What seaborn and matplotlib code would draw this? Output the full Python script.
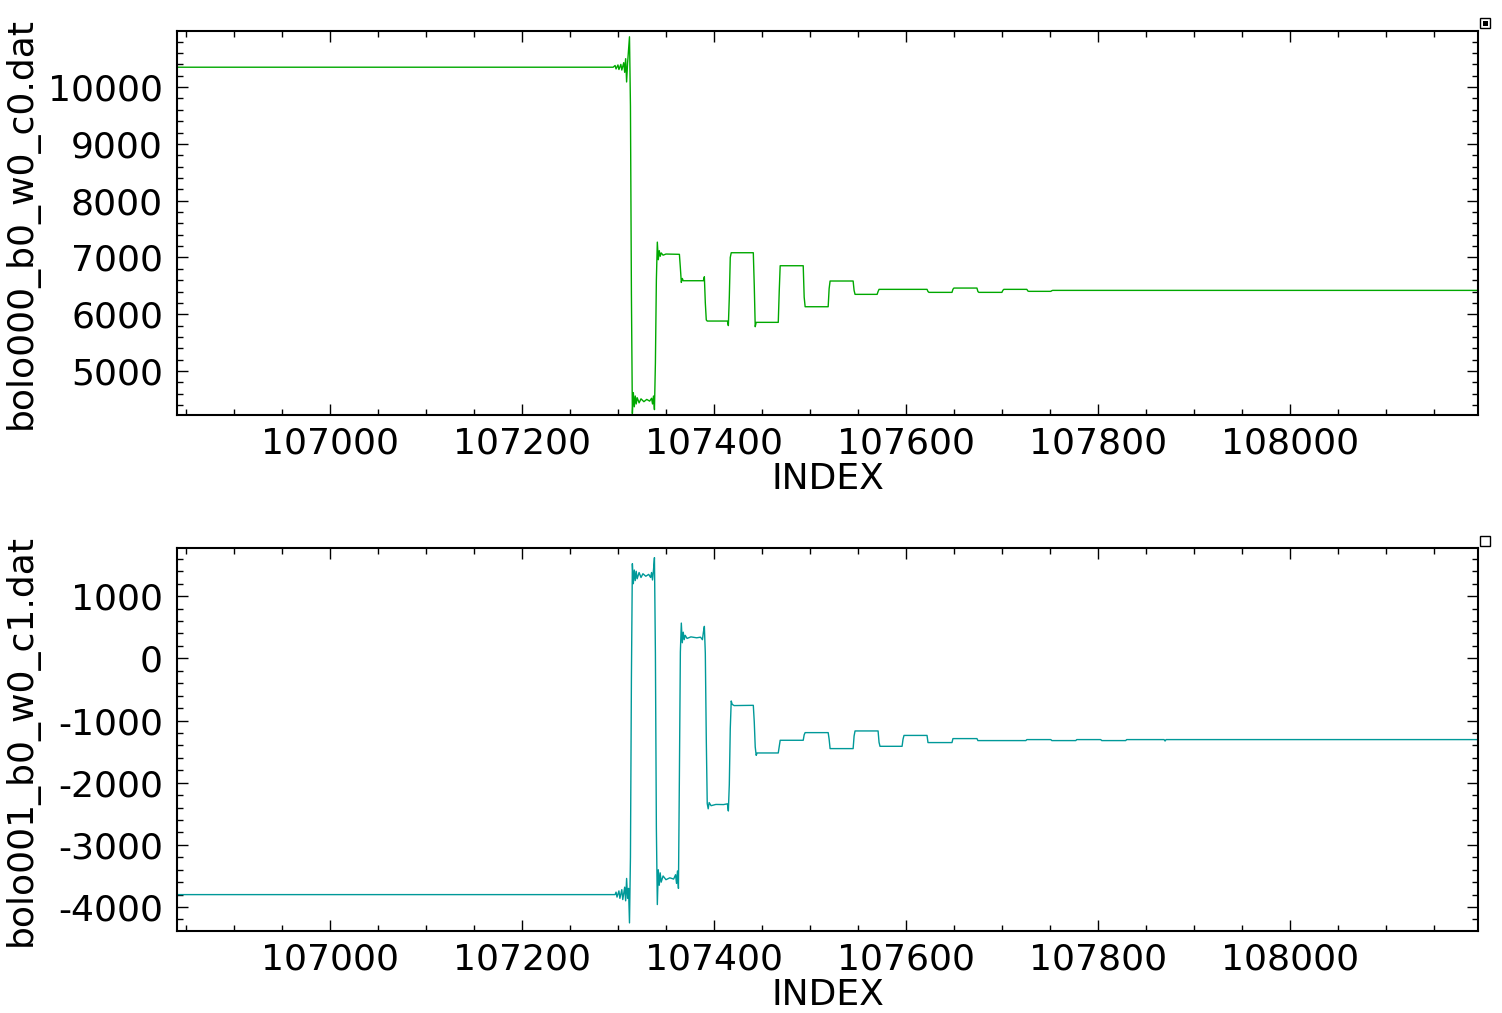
import numpy as np
import pandas as pd
import seaborn as sns
import matplotlib
matplotlib.use("Agg")
from matplotlib import pyplot as plt
from matplotlib.ticker import MultipleLocator
from matplotlib.patches import Rectangle

# donnees (index, valeur) aux coins des paliers

top_index = [106841, 107295, 107297, 107298, 107300, 107301, 107303, 107304, 107306, 107307,
             107308, 107309, 107310, 107312, 107313, 107314, 107315, 107316, 107317, 107318,
             107319, 107320, 107322, 107324, 107327, 107330, 107333, 107335, 107336, 107337,
             107338, 107339, 107340, 107341, 107342, 107343, 107344, 107345, 107347, 107350,
             107364, 107365, 107366, 107367, 107368, 107389, 107390, 107391, 107392, 107393,
             107414, 107415, 107416, 107417, 107418, 107441, 107442, 107443, 107444, 107467,
             107468, 107469, 107493, 107494, 107495, 107519, 107520, 107521, 107545, 107546,
             107547, 107570, 107571, 107572, 107622, 107623, 107624, 107648, 107649, 107650,
             107674, 107675, 107676, 107700, 107701, 107702, 107726, 107727, 107728, 107751,
             107752, 107753, 108196]
top_values = [10350, 10350, 10380, 10320, 10390, 10310, 10400, 10300, 10430, 10260,
              10500, 10090, 10420, 10886, 9665, 6356, 4250, 4620, 4370, 4560,
              4420, 4530, 4440, 4510, 4460, 4500, 4470, 4520, 4420, 4560,
              4320, 5140, 6600, 7270, 6960, 7120, 7020, 7080, 7040, 7060,
              7055, 6820, 6560, 6630, 6590, 6590, 6660, 6200, 5900, 5880,
              5880, 5800, 6300, 7000, 7083, 7083, 6500, 5780, 5857, 5857,
              6400, 6854, 6854, 6300, 6132, 6132, 6450, 6585, 6585, 6420,
              6350, 6350, 6400, 6438, 6438, 6400, 6385, 6385, 6440, 6461,
              6461, 6400, 6385, 6385, 6420, 6438, 6438, 6410, 6403, 6403,
              6415, 6420, 6420]

bot_index = [106841, 107297, 107298, 107299, 107301, 107302, 107304, 107305, 107307, 107308,
             107309, 107310, 107311, 107312, 107313, 107314, 107315, 107316, 107317, 107318,
             107319, 107320, 107322, 107324, 107326, 107329, 107332, 107334, 107335, 107336,
             107337, 107338, 107339, 107340, 107341, 107342, 107343, 107344, 107345, 107347,
             107350, 107354, 107358, 107360, 107361, 107362, 107363, 107364, 107365, 107366,
             107367, 107368, 107369, 107370, 107372, 107376, 107382, 107386, 107388, 107389,
             107390, 107391, 107392, 107393, 107394, 107395, 107397, 107402, 107410, 107414,
             107415, 107416, 107417, 107418, 107419, 107421, 107441, 107442, 107443, 107444,
             107445, 107467, 107468, 107469, 107493, 107494, 107495, 107519, 107520, 107521,
             107545, 107546, 107547, 107571, 107572, 107573, 107596, 107597, 107598, 107622,
             107623, 107648, 107649, 107674, 107675, 107725, 107726, 107751, 107752, 107777,
             107778, 107803, 107804, 107829, 107830, 107869, 107870, 107871, 108196]
bot_values = [-3800, -3800, -3760, -3840, -3740, -3860, -3720, -3880, -3680, -3900,
              -3540, -3860, -3700, -4255, -3199, -322, 1522, 1200, 1420, 1250,
              1400, 1280, 1380, 1300, 1360, 1320, 1350, 1300, 1380, 1260,
              1420, 1619, 80, -2728, -3960, -3400, -3650, -3450, -3600, -3500,
              -3560, -3530, -3550, -3480, -3620, -3420, -3700, -1881, 101, 567,
              250, 420, 300, 370, 320, 345, 330, 340, 300, 420,
              514, 80, -1291, -2336, -2420, -2320, -2370, -2350, -2352, -2340,
              -2455, -2026, -1131, -686, -740, -760, -756, -1024, -1425, -1560,
              -1522, -1522, -1420, -1318, -1318, -1230, -1195, -1195, -1300, -1452,
              -1452, -1250, -1168, -1168, -1350, -1415, -1415, -1300, -1240, -1240,
              -1355, -1355, -1291, -1291, -1323, -1323, -1307, -1307, -1323, -1323,
              -1307, -1307, -1323, -1323, -1307, -1307, -1330, -1307, -1307]

top_df = pd.DataFrame({"INDEX": top_index, "val": top_values})
bot_df = pd.DataFrame({"INDEX": bot_index, "val": bot_values})

sns.set_style("ticks")
plt.rcParams['font.family'] = ['DejaVu Sans']
plt.rcParams['axes.unicode_minus'] = False
plt.rcParams['text.color'] = 'black'
plt.rcParams['axes.labelcolor'] = 'black'
plt.rcParams['axes.edgecolor'] = 'black'
plt.rcParams['xtick.color'] = 'black'
plt.rcParams['ytick.color'] = 'black'

fig = plt.figure(figsize=(15.02, 10.13), dpi=100)
ax1 = fig.add_axes([0.1178, 0.5903, 0.8662, 0.379])
ax2 = fig.add_axes([0.1178, 0.0809, 0.8662, 0.378])

sns.lineplot(data=top_df, x="INDEX", y="val", ax=ax1, color="#00A800",
             linewidth=1.0, estimator=None, sort=False)
sns.lineplot(data=bot_df, x="INDEX", y="val", ax=ax2, color="#009999",
             linewidth=1.0, estimator=None, sort=False)

ax1.set_ylim(4225, 10986)
ax2.set_ylim(-4386, 1772)

for ax, lab in [(ax1, "bolo000_b0_w0_c0.dat"), (ax2, "bolo001_b0_w0_c1.dat")]:
    ax.set_xlim(106840.5, 108196)
    ax.xaxis.set_major_locator(MultipleLocator(200))
    ax.xaxis.set_minor_locator(MultipleLocator(50))
    ax.yaxis.set_major_locator(MultipleLocator(1000))
    ax.yaxis.set_minor_locator(MultipleLocator(200))
    ax.ticklabel_format(useOffset=False, style='plain')
    ax.tick_params(which='both', direction='in', top=True, right=True, width=1,
                   color='black', labelcolor='black')
    ax.tick_params(which='major', length=8, labelsize=26)
    ax.tick_params(axis='x', which='major', pad=8)
    ax.tick_params(axis='y', which='major', pad=10)
    ax.tick_params(which='minor', length=4)
    for s in ax.spines.values():
        s.set_linewidth(1.5)
        s.set_color('black')
    ax.set_xlabel("INDEX", fontsize=26, color='black')
    ax.set_ylabel(lab, fontsize=26, color='black')
    ax.xaxis.set_label_coords(0.5, -0.122)
    ax.yaxis.set_label_coords(-0.106, 0.5)

# petits carres dans les coins
W, H = 1502.0, 1013.0
fig.add_artist(Rectangle((1480 / W, 1 - 28 / H), 10 / W, 10 / H, transform=fig.transFigure,
                         fill=False, edgecolor="black", linewidth=1))
fig.add_artist(Rectangle((1483 / W, 1 - 26 / H), 5 / W, 5 / H, transform=fig.transFigure,
                         facecolor="black", edgecolor="none"))
fig.add_artist(Rectangle((1480 / W, 1 - 545.5 / H), 10 / W, 10 / H, transform=fig.transFigure,
                         fill=False, edgecolor="black", linewidth=1))

fig.savefig("out.png", dpi=100)
